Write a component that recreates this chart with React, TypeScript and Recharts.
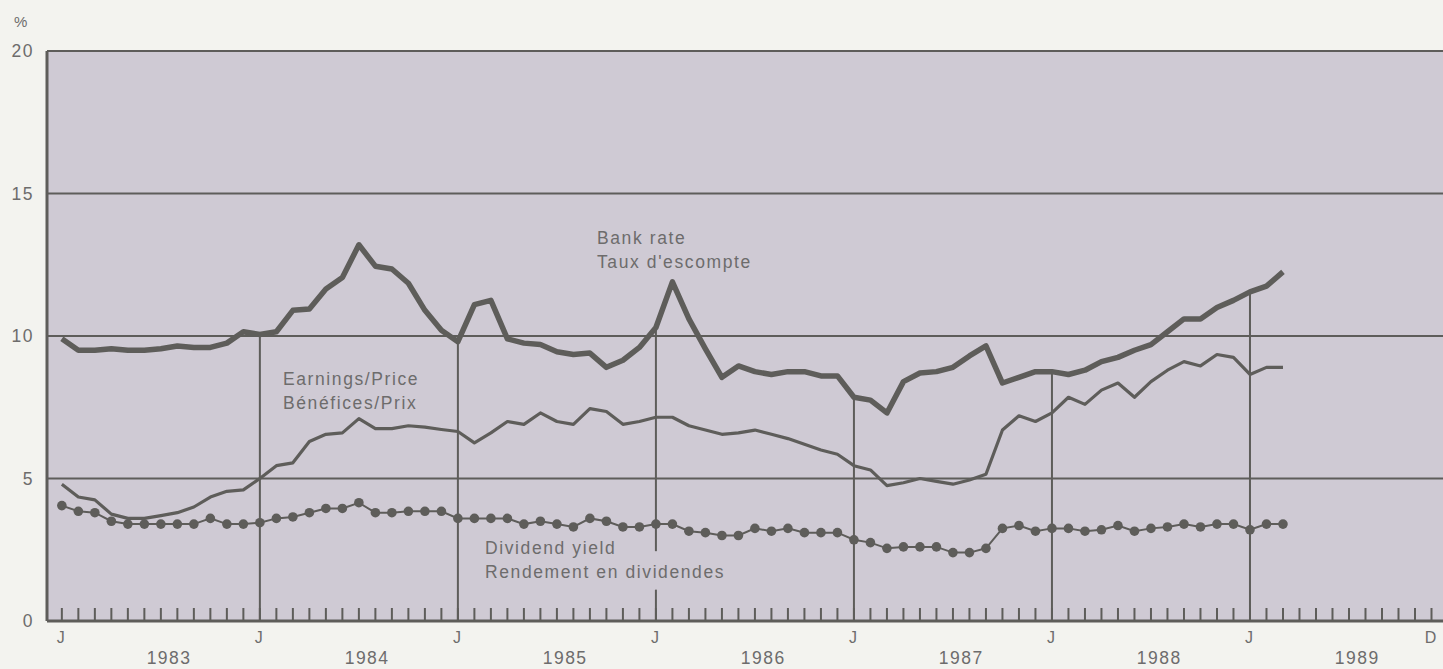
import React from 'react';
import {
    LineChart,
    Line,
    XAxis,
    YAxis,
    CartesianGrid,
    ReferenceLine,
} from 'recharts';

// monthly, Jan 1983 = 0
const months = Array.from({ length: 84 }, (_, i) => i);

const bankRate = [
    9.9, 9.5, 9.5, 9.55, 9.5, 9.5, 9.55, 9.65, 9.6, 9.6, 9.75, 10.15,
    10.05, 10.15, 10.9, 10.95, 11.65, 12.05, 13.2, 12.45, 12.35, 11.85, 10.9, 10.2,
    9.8, 11.1, 11.25, 9.9, 9.75, 9.7, 9.45, 9.35, 9.4, 8.9, 9.15, 9.6,
    10.3, 11.9, 10.6, 9.55, 8.55, 8.95, 8.75, 8.65, 8.75, 8.75, 8.6, 8.6,
    7.85, 7.75, 7.3, 8.4, 8.7, 8.75, 8.9, 9.3, 9.65, 8.35, 8.55, 8.75,
    8.75, 8.65, 8.8, 9.1, 9.25, 9.5, 9.7, 10.15, 10.6, 10.6, 11.0, 11.25,
    11.55, 11.75, 12.25,
];

const earningsPrice = [
    4.8, 4.35, 4.25, 3.75, 3.6, 3.6, 3.7, 3.8, 4.0, 4.35, 4.55, 4.6,
    5.0, 5.45, 5.55, 6.3, 6.55, 6.6, 7.1, 6.75, 6.75, 6.85, 6.8, 6.72,
    6.65, 6.25, 6.6, 7.0, 6.9, 7.3, 7.0, 6.9, 7.45, 7.35, 6.9, 7.0,
    7.15, 7.15, 6.85, 6.7, 6.55, 6.6, 6.7, 6.55, 6.4, 6.2, 6.0, 5.85,
    5.45, 5.3, 4.75, 4.85, 5.0, 4.9, 4.8, 4.95, 5.15, 6.7, 7.2, 7.0,
    7.3, 7.85, 7.6, 8.1, 8.35, 7.85, 8.4, 8.8, 9.1, 8.95, 9.35, 9.25,
    8.65, 8.9, 8.9,
];

const dividendYield = [
    4.05, 3.85, 3.8, 3.5, 3.4, 3.4, 3.4, 3.4, 3.4, 3.6, 3.4, 3.4,
    3.45, 3.6, 3.65, 3.8, 3.95, 3.95, 4.15, 3.8, 3.8, 3.85, 3.85, 3.85,
    3.6, 3.6, 3.6, 3.6, 3.4, 3.5, 3.4, 3.3, 3.6, 3.5, 3.3, 3.3,
    3.4, 3.4, 3.15, 3.1, 3.0, 3.0, 3.25, 3.15, 3.25, 3.1, 3.1, 3.1,
    2.85, 2.75, 2.55, 2.6, 2.6, 2.6, 2.4, 2.4, 2.55, 3.25, 3.35, 3.15,
    3.25, 3.25, 3.15, 3.2, 3.35, 3.15, 3.25, 3.3, 3.4, 3.3, 3.4, 3.4,
    3.2, 3.4, 3.4,
];

const years = ['1983', '1984', '1985', '1986', '1987', '1988', '1989'];
const yearTicks = years.map((_, i) => i * 12 + 6.5);
const yTicks = [0, 5, 10, 15, 20];
const januaries = [12, 24, 36, 48, 60, 72];

const data = months.map((m) => ({
    m,
    bank: bankRate[m],
    ep: earningsPrice[m],
    dy: dividendYield[m],
}));

const INK = '#5e5d5a';
const TEXT = '#6d6c6c';
const FONT = '"Liberation Sans", Arial, sans-serif';

const MonthTick = ({ x, y, payload }: any) => {
    const m = payload.value;
    const label = m % 12 === 0 ? 'J' : m === 83 ? 'D' : '';
    return (
        <g>
            <line x1={x} x2={x} y1={y} y2={y - 13} stroke={INK} strokeWidth={2} />
            {label && (
                <text x={x - 1} y={y + 16} dy="0.35em" textAnchor="middle" fill={TEXT} fontSize={16} fontFamily={FONT}>
                    {label}
                </text>
            )}
        </g>
    );
};

const YearTick = ({ x, y, payload }: any) => {
    const idx = yearTicks.indexOf(payload.value);
    return (
        <text x={x} y={y + 13} dy="0.35em" textAnchor="middle" fill={TEXT} fontSize={17.5} fontFamily={FONT} letterSpacing={1.5}>
            {years[idx]}
        </text>
    );
};

const labelStyle: React.CSSProperties = {
    position: 'absolute',
    fontFamily: FONT,
    fontSize: 17.5,
    letterSpacing: 1.6,
    color: TEXT,
    lineHeight: '24px',
    whiteSpace: 'nowrap',
};

export default function App() {
    return (
        <div style={{ position: 'absolute', left: 0, top: 0, width: 1443, height: 669, overflow: 'hidden', background: '#f3f3ef' }}>
            <div style={{ position: 'absolute', left: 14, top: 13, fontFamily: FONT, fontSize: 15, color: TEXT }}>%</div>
            <LineChart width={1448} height={669} data={data} margin={{ top: 51, right: 0, bottom: 0, left: 0 }}>
                <CartesianGrid vertical={false} stroke={INK} strokeWidth={2} fill="#cfcad4" fillOpacity={1} />
                <XAxis
                    dataKey="m"
                    type="number"
                    domain={[-0.9, 84]}
                    ticks={months}
                    interval={0}
                    tickSize={0}
                    tickMargin={0}
                    tickLine={false}
                    tick={<MonthTick />}
                    axisLine={{ stroke: INK, strokeWidth: 3 }}
                    height={24}
                />
                <XAxis
                    xAxisId="yr"
                    dataKey="m"
                    type="number"
                    domain={[-0.9, 84]}
                    ticks={yearTicks}
                    interval={0}
                    tickSize={0}
                    tickMargin={0}
                    tickLine={false}
                    axisLine={false}
                    tick={<YearTick />}
                    height={24}
                />
                <YAxis
                    domain={[0, 20]}
                    ticks={yTicks}
                    width={47}
                    tickSize={0}
                    tickMargin={13}
                    tickLine={false}
                    axisLine={{ stroke: INK, strokeWidth: 3 }}
                    tick={{ fill: TEXT, fontSize: 17.5, fontFamily: FONT, letterSpacing: 1.5 }}
                />
                {januaries.map((j) =>
                    j === 36 ? (
                        <React.Fragment key={j}>
                            <ReferenceLine segment={[{ x: j, y: 2.45 }, { x: j, y: bankRate[j] }]} stroke={INK} strokeWidth={2} />
                            <ReferenceLine segment={[{ x: j, y: 0 }, { x: j, y: 1.1 }]} stroke={INK} strokeWidth={2} />
                        </React.Fragment>
                    ) : (
                        <ReferenceLine key={j} segment={[{ x: j, y: 0 }, { x: j, y: bankRate[j] }]} stroke={INK} strokeWidth={2} />
                    )
                )}
                <Line dataKey="bank" stroke={INK} strokeWidth={5.5} dot={false} strokeLinejoin="round" isAnimationActive={false} />
                <Line dataKey="ep" stroke={INK} strokeWidth={3.2} dot={false} strokeLinejoin="round" isAnimationActive={false} />
                <Line
                    dataKey="dy"
                    stroke={INK}
                    strokeWidth={2}
                    dot={{ r: 4.8, fill: INK, stroke: 'none' }}
                    isAnimationActive={false}
                />
            </LineChart>
            <div style={{ ...labelStyle, left: 597, top: 226 }}>
                Bank rate<br />Taux d'escompte
            </div>
            <div style={{ ...labelStyle, left: 283, top: 367 }}>
                Earnings/Price<br />Bénéfices/Prix
            </div>
            <div style={{ ...labelStyle, left: 485, top: 536 }}>
                Dividend yield<br />Rendement en dividendes
            </div>
        </div>
    );
}
